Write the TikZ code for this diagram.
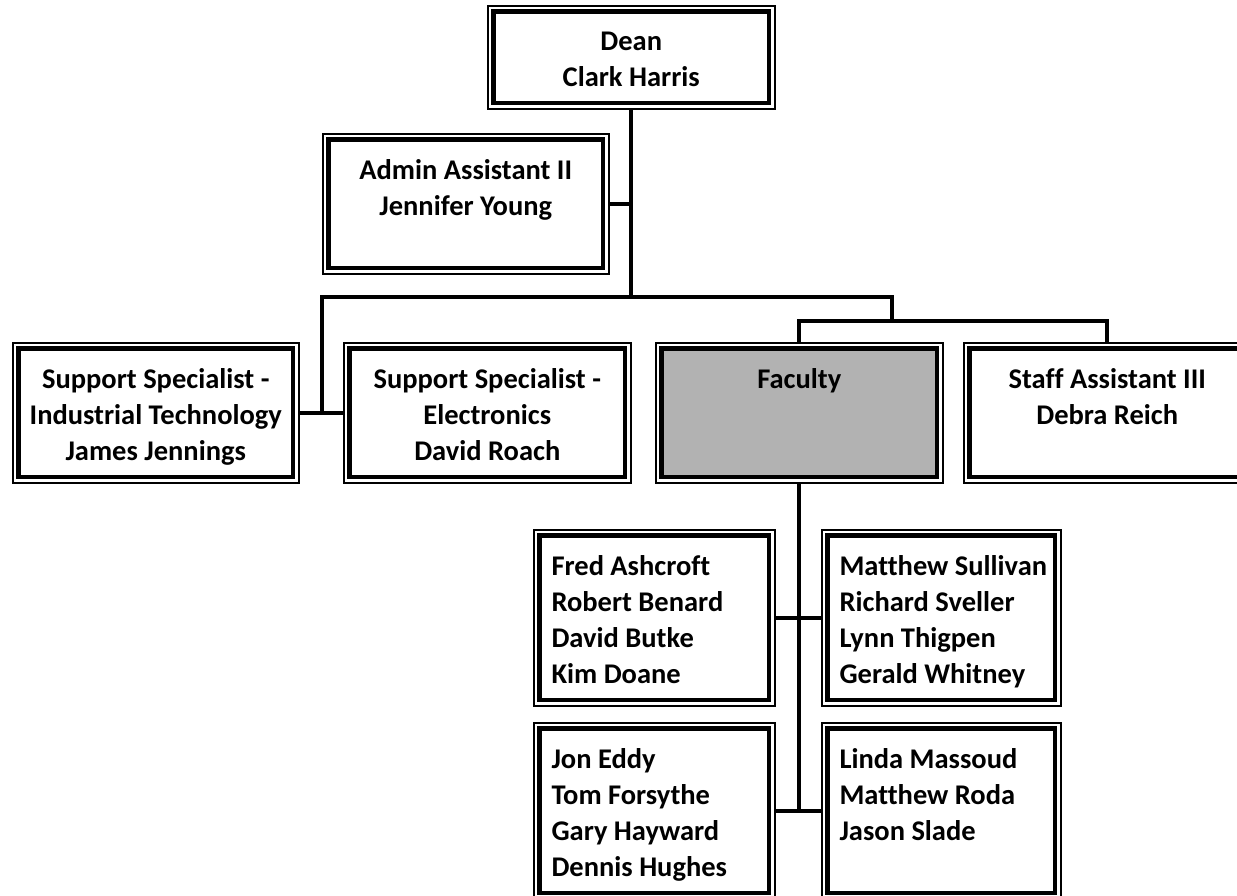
\documentclass[tikz,border=0pt]{standalone}
\usepackage{fontspec}
\setmainfont[Ligatures=CommonOff]{Carlito}
\usetikzlibrary{positioning, calc}
\definecolor{facultygrey}{HTML}{B2B2B2}

\begin{document}
\begin{tikzpicture}[
    x=1pt, y=-1pt,
    every node/.style={font=\bfseries\fontsize{28.5}{36}\selectfont},
    core fill/.store in=\corefill, core fill=white,
    box/.style={draw, line width=1.5pt, anchor=north west, inner sep=0pt,
        minimum width=287pt, minimum height=140pt,
        path picture={\draw[line width=4.3pt, fill=\corefill]
            ([shift={(5.7pt,-5.7pt)}]path picture bounding box.north west) rectangle
            ([shift={(-5.7pt,5.7pt)}]path picture bounding box.south east);}},
    title/.style={anchor=north, align=center, yshift=-23pt},
    names/.style={anchor=north west, align=left, xshift=15pt, yshift=-23pt},
    link/.style={line width=4pt}
]
\useasboundingbox (0,0) rectangle (1237,895);
\clip (0,0) rectangle (1237,895);

% Boxes
\node[box, minimum height=103pt, label={[title]north:Dean\\Clark Harris}] (dean) at (487,5) {};
\node[box, minimum width=286pt, label={[title]north:Admin Assistant II\\Jennifer Young}] (admin) at (322,133) {};
\node[box, minimum width=286pt, label={[title]north:Support Specialist -\\Industrial Technology\\James Jennings}] (tech) at (12,342) {};
\node[box, label={[title]north:Support Specialist -\\Electronics\\David Roach}] (elec) at (343,342) {};
\node[box, core fill=facultygrey, label={[title]north:Faculty}] (faculty) at (655,342) {};
\node[box, label={[title]north:Staff Assistant III\\Debra Reich}] (staff) at (963,342) {};

% Faculty members
\node[box, minimum width=241pt, minimum height=176pt, label={[names]north west:Fred Ashcroft\\Robert Benard\\David Butke\\Kim Doane}] (fac1) at (533,529) {};
\node[box, minimum width=239pt, minimum height=176pt, label={[names]north west:Matthew Sullivan\\Richard Sveller\\Lynn Thigpen\\Gerald Whitney}] (fac2) at (821,529) {};
\node[box, minimum width=241pt, minimum height=176pt, label={[names]north west:Jon Eddy\\Tom Forsythe\\Gary Hayward\\Dennis Hughes}] (fac3) at (533,722) {};
\node[box, minimum width=239pt, minimum height=176pt, label={[names]north west:Linda Massoud\\Matthew Roda\\Jason Slade}] (fac4) at (821,722) {};

% Bus points
\coordinate (bus) at (dean.south |- 0,297);
\coordinate (lbus) at (322,297);
\coordinate (rbus) at (892,297);
\coordinate (fork) at (892,321);

% Connectors
\draw[link] (dean.south) -- (bus);
\draw[link] (admin.east) -- (admin.east -| bus);
\draw[link] (tech.east) -- (elec.west);
\draw[link] (tech.east -| lbus) -- (lbus) -- (rbus) -- (fork);
\draw[link] (faculty.north) |- (fork) -| (staff.north);
\draw[link] (faculty.south) -- (faculty.south |- fac3.east);
\draw[link] (fac1.east) -- (fac2.west);
\draw[link] (fac3.east) -- (fac4.west);

\end{tikzpicture}
\end{document}
